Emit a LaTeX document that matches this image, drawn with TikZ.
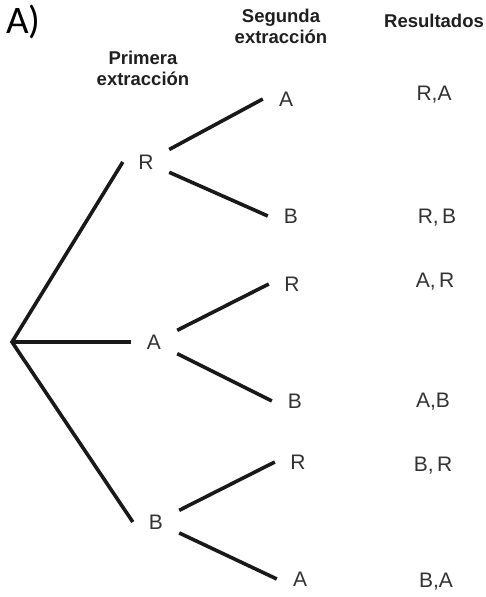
\documentclass[tikz,border=0pt]{standalone}
\usepackage{fontspec}
\setmainfont{Liberation Sans}
\newfontfamily\tagfont{Carlito}
\usetikzlibrary{positioning}

\begin{document}
\begin{tikzpicture}[
  x=1pt, y=-1pt,
  head/.style={font=\bfseries\fontsize{18.5}{21}\selectfont, align=center, text=black!88},
  lvl/.style={font=\fontsize{21}{21}\selectfont, minimum width=46pt, minimum height=30pt,
              inner sep=0pt, text=black!80},
  res/.style={font=\fontsize{21}{21}\selectfont, inner sep=0pt, text=black!80},
  br/.style={line width=3.6pt, black!90},
]
\useasboundingbox (0,0) rectangle (486,597);

% --- Titles ---
\node[font=\tagfont\fontsize{39}{39}\selectfont, anchor=base west, inner sep=0pt] (tag) at (6,33) {A)};
\node[head] (hfirst) at (143,68) {Primera\\extracción};
\node[head] (hsecond) at (281,26) {Segunda\\extracción};
\node[head] (hres) at (434,21) {Resultados};

% --- Root and first extraction ---
\coordinate (root) at (12,342);
\node[lvl] (R1) at (146,162) {R};
\node[lvl] (A1) at (154,342) {A};
\node[lvl] (B1) at (156,522) {B};

\draw[br] (R1.west) -- (root) -- (B1.west);
\draw[br] (root) -- (A1.west);

% --- Second extraction ---
\node[lvl] (RA) at (286,99) {A};
\node[lvl] (RB) at (291,216) {B};
\node[lvl] (AR) at (292,284) {R};
\node[lvl] (AB) at (295,401) {B};
\node[lvl] (BR) at (298,462) {R};
\node[lvl] (BA) at (300,579) {A};

\draw[br] (R1) -- (RA.west);
\draw[br] (R1) -- (RB.west);
\draw[br] (A1) -- (AR.west);
\draw[br] (A1) -- (AB.west);
\draw[br] (B1) -- (BR.west);
\draw[br] (B1) -- (BA.west);

% --- Results ---
\node[res] (resRA) at (434,95) {R,A};
\node[res] (resRB) at (437,218) {R,\,B};
\node[res] (resAR) at (435,282) {A,\,R};
\node[res] (resAB) at (433,402) {A,B};
\node[res] (resBR) at (433,466) {B,\,R};
\node[res] (resBA) at (436,582) {B,A};
\end{tikzpicture}
\end{document}
